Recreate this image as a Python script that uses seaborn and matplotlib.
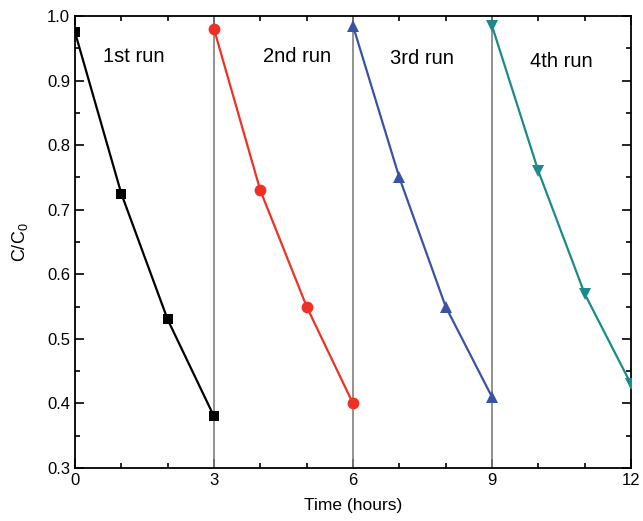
#!/usr/bin/env python3

import pandas as pd
import seaborn as sns
import matplotlib.pyplot as plt
from matplotlib.ticker import MultipleLocator

sns.set_style("ticks", {"axes.edgecolor": "black", "text.color": "black",
                        "axes.labelcolor": "black", "xtick.color": "black",
                        "ytick.color": "black"})
plt.rcParams['font.family'] = ['Liberation Sans', 'DejaVu Sans']
plt.rcParams['mathtext.fontset'] = 'custom'
plt.rcParams['mathtext.rm'] = 'Liberation Sans'
plt.rcParams['mathtext.it'] = 'Liberation Sans'

# data
runs = ["1st run", "2nd run", "3rd run", "4th run"]
times = [[0, 1, 2, 3], [3, 4, 5, 6], [6, 7, 8, 9], [9, 10, 11, 12]]
ratios = [[0.975, 0.725, 0.53, 0.38],
          [0.98, 0.73, 0.55, 0.40],
          [0.985, 0.75, 0.55, 0.41],
          [0.985, 0.76, 0.57, 0.43]]
colors = ["#000000", "#EE3124", "#3953A4", "#1A8A8A"]
markers = ["s", "o", "^", "v"]
msizes = [7, 8.5, 8.5, 8.5]
label_pos = [(1.27, 0.937), (4.79, 0.937), (7.49, 0.934), (10.5, 0.929)]

rows = []
for run, ts, rs in zip(runs, times, ratios):
    for t, r in zip(ts, rs):
        rows.append({"run": run, "time": t, "ratio": r})
df = pd.DataFrame(rows)

fig = plt.figure(figsize=(6.43, 5.21), dpi=100)
ax = fig.add_axes([0.1166, 0.1017, 0.8647, 0.8676])

for t in [3, 6, 9]:
    ax.axvline(t, color="#7f7f7f", lw=1.2, zorder=1)

for run, c, m, ms in zip(runs, colors, markers, msizes):
    sns.lineplot(data=df[df.run == run], x="time", y="ratio", color=c,
                 marker=m, markersize=ms, markeredgewidth=0, linewidth=1.6,
                 ax=ax, zorder=3)

for run, (x, y) in zip(runs, label_pos):
    ax.text(x, y, run, fontsize=14.5, ha="center", va="center", color="black")

ax.set_xlim(0, 12)
ax.set_ylim(0.3, 1.0)
ax.xaxis.set_major_locator(MultipleLocator(3))
ax.xaxis.set_minor_locator(MultipleLocator(1))
ax.yaxis.set_major_locator(MultipleLocator(0.1))
ax.yaxis.set_minor_locator(MultipleLocator(0.05))
ax.tick_params(which="both", direction="in", top=True, right=True,
               labelsize=12, width=1.2, colors="black")
ax.tick_params(which="major", length=6.5)
ax.tick_params(which="minor", length=3.8)
for s in ax.spines.values():
    s.set_linewidth(1.3)
    s.set_color("black")
ax.set_xlabel("Time (hours)", fontsize=12.5, labelpad=7, color="black")
ax.set_ylabel("C/C$_0$", fontsize=13, color="black")
ax.yaxis.set_label_coords(-0.08, 0.5)

plt.savefig("out.png", dpi=100)
